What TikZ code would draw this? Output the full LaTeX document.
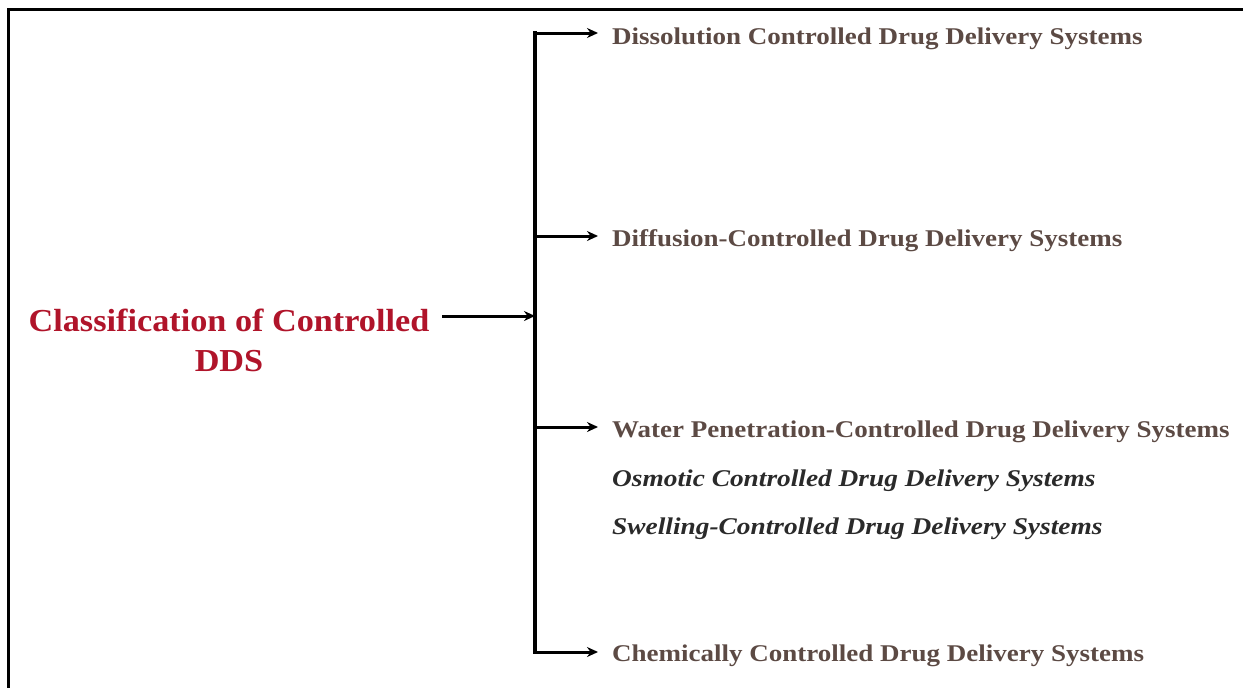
\documentclass[tikz,border=0pt]{standalone}
\usepackage{fontspec}
\setmainfont{Liberation Serif}
\usetikzlibrary{arrows.meta}
\definecolor{titlered}{HTML}{B0142A}
\definecolor{branchbrown}{HTML}{5C4A44}
\definecolor{subgray}{HTML}{2A2A2A}
\newcommand{\wide}[1]{\scalebox{1.125}[1]{#1}}
\newcommand{\widei}[1]{\scalebox{1.14}[1]{#1}}
\tikzset{
  branch/.style={anchor=base west, inner sep=0pt, text=branchbrown, font=\fontsize{24}{28}\selectfont\bfseries},
  subitem/.style={anchor=base west, inner sep=0pt, text=subgray, font=\fontsize{24}{28}\selectfont\bfseries\itshape},
  conn/.style={line width=3pt, -{Stealth[length=11pt,width=10pt]}},
  trunk/.style={line width=3.5pt},
  frame/.style={line width=3pt},
  titletext/.style={anchor=base, text=titlered, font=\fontsize{32}{41}\selectfont\bfseries, inner sep=0pt}
}
\begin{document}
\begin{tikzpicture}[x=1pt,y=-1pt]
\useasboundingbox (0,0) rectangle (1243,688);
% frame (only top and left visible)
\coordinate (fA) at (8,700);
\coordinate (fB) at (8,9);
\coordinate (fC) at (1260,9);
\draw[frame] (fA) -- (fB) -- (fC);
% title
\node[titletext] (title) at (229,331) {\scalebox{1.07}[1]{Classification of Controlled}};
\node[titletext] (title2) at (229,371) {\scalebox{1.07}[1]{DDS}};
% trunk
\coordinate (top) at (535,33);
\coordinate (bot) at (535,652);
\coordinate (mid) at (535,316);
\coordinate (j2) at (535,236);
\coordinate (j3) at (535,427);
\draw[trunk] ([xshift=1.75pt]top) -- (top) -- (bot) -- ([xshift=1.75pt]bot);
% branch texts
\node[branch] (d1) at (612,44) {\wide{Dissolution Controlled Drug Delivery Systems}};
\node[branch] (d2) at (612,246) {\wide{Diffusion-Controlled Drug Delivery Systems}};
\node[branch] (d3) at (612,437) {\wide{Water Penetration-Controlled Drug Delivery Systems}};
\node[subitem] (s1) at (612,486) {\widei{Osmotic Controlled Drug Delivery Systems}};
\node[subitem] (s2) at (612,534) {\widei{Swelling-Controlled Drug Delivery Systems}};
\node[branch] (d4) at (612,661) {\wide{Chemically Controlled Drug Delivery Systems}};
% arrow tips
\coordinate (e1) at (598,33);
\coordinate (e2) at (598,236);
\coordinate (e3) at (598,427);
\coordinate (e4) at (598,652);
\coordinate (m0) at (442,316);
\draw[conn] (top) -- (e1);
\draw[conn] (j2) -- (e2);
\draw[conn] (j3) -- (e3);
\draw[conn] (bot) -- (e4);
\draw[conn] (m0) -- (mid);
\end{tikzpicture}
\end{document}
